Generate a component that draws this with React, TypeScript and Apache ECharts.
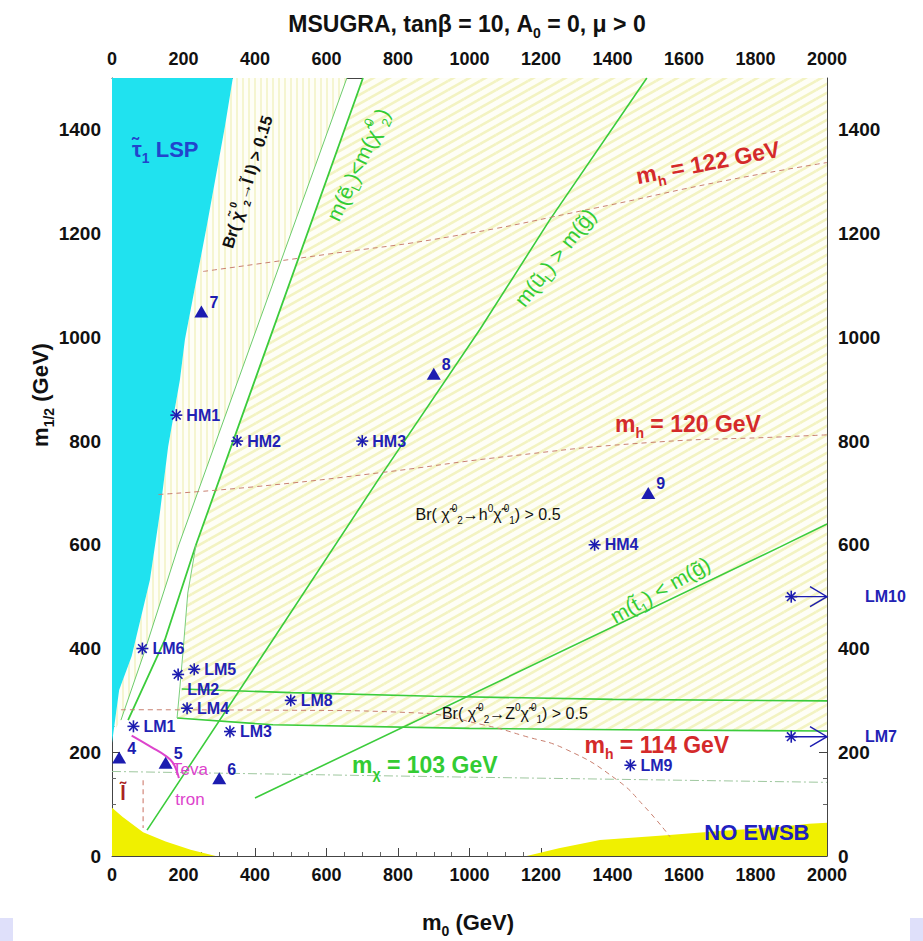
import { useEffect, useRef } from "react";
import * as echarts from "echarts";

const FONT = "'Liberation Sans', Arial, Helvetica, sans-serif";

const X_MIN = 0;
const X_MAX = 2000;
const Y_MIN = 0;
const Y_MAX = 1500;
const TICK_STEP = 200;

// ---- shaded regions (m0, m1/2) in GeV ----
const stauLspRegion = [[0, 218], [20, 320], [55, 385], [106, 532], [134, 662], [157, 789], [190, 918], [204, 996], [265, 1214], [316, 1407], [338, 1500], [0, 1500]];
const lepYellowRegion = [[0, 0], [0, 93], [30, 75], [87, 46], [150, 28], [220, 12], [290, 0]];
const noEwsbRegion = [[1160, 0], [1250, 15], [1365, 31], [1550, 40], [1700, 48], [1850, 55], [1950, 62], [2000, 64], [2000, 0]];
const higgsHatchRegion = [[702, 1500], [2000, 1500], [2000, 299], [1400, 302], [900, 308], [500, 315], [195, 322], [199, 397], [212, 507], [235, 600], [400, 918]];
const zHatchRegion = [[182, 266], [195, 322], [500, 315], [900, 308], [1400, 302], [2000, 299], [2000, 241], [1500, 243], [1000, 246], [450, 253]];
const sleptonHatchRegion = [[338, 1500], [657, 1500], [353, 918], [187, 600], [90, 392], [25, 262], [5, 240], [20, 320], [55, 385], [106, 532], [134, 662], [157, 789], [190, 918], [204, 996], [265, 1214], [316, 1407]];

// ---- contour lines ----
const brSleptonEdge = [[25, 262], [90, 392], [187, 600], [353, 918], [657, 1500]];
const selectronEdge = [[45, 262], [148, 417], [235, 600], [400, 918], [702, 1500]];
const hatchEdge = [[182, 266], [190, 326], [199, 397], [212, 507], [235, 600]];
const squarkGluinoEdge = [[98, 50], [450, 417], [750, 731], [1029, 1015], [1225, 1227], [1496, 1500]];
const stopGluinoEdge = [[400, 112], [1869, 596], [2000, 640]];
const zBandTop = [[195, 322], [500, 315], [900, 308], [1400, 302], [2000, 299]];
const zBandBottom = [[182, 266], [450, 253], [1000, 246], [1500, 243], [2000, 241]];
const mh114 = [[25, 282], [500, 281], [850, 276], [1038, 253], [1150, 232], [1272, 205], [1412, 147], [1490, 95], [1561, 37]];
const mh120 = [[130, 697], [400, 712], [750, 739], [1100, 770], [1500, 797], [1870, 808], [2000, 812]];
const mh122 = [[255, 1127], [600, 1160], [945, 1194], [1357, 1250], [1700, 1300], [2000, 1337]];
const mchi103 = [[0, 163], [1000, 152], [2000, 142]];
const sleptonLep = [[87, 146], [87, 54]];
const tevatronEdge = [[55, 232], [110, 210], [150, 193], [170, 180], [183, 160], [187, 150]];

// ---- benchmark points ----
const lmNames = ["LM1", "LM2", "LM3", "LM4", "LM5", "LM6", "LM8", "LM9", "HM1", "HM2", "HM3", "HM4"];
const lmX = [60, 185, 330, 210, 230, 85, 500, 1450, 180, 350, 700, 1350];
const lmY = [250, 350, 240, 285, 360, 400, 300, 175, 850, 800, 800, 600];
const offNames = ["LM7", "LM10"];
const offX = [1900, 1900];
const offY = [230, 500];
const triNames = ["4", "5", "6", "7", "8", "9"];
const triX = [20, 150, 300, 250, 900, 1500];
const triY = [190, 180, 150, 1050, 930, 700];

// ---- annotation texts ----
const annotTexts = [
  "{n|τ̃}{s|1}{n| LSP}",
  "{n|Br( }{c|χ̃}{u|0}{s|2}{n|→l̃ l) > 0.15}",
  "{n|m(ẽ}{s|L}{n|)<m(}{c|χ̃}{u|0}{s|2}{n|)}",
  "{n|m(ũ}{s|L}{n|) > m(g̃)}",
  "{n|m}{s|h}{n| = 122 GeV}",
  "{n|m}{s|h}{n| = 120 GeV}",
  "{n|Br( }{c|χ̃}{u|0}{s|2}{n|→h}{u|0}{c|χ̃}{u|0}{s|1}{n|) > 0.5}",
  "{n|m(t̃}{s|1}{n|) < m(g̃)}",
  "{n|Br( }{c|χ̃}{u|0}{s|2}{n|→Z}{u|0}{c|χ̃}{u|0}{s|1}{n|) > 0.5}",
  "{n|m}{s|h}{n| = 114 GeV}",
  "{n|m}{s|χ}{n| = 103 GeV}",
  "{n|NO EWSB}",
  "{n|Teva}",
  "{n|tron}",
  "{n|l̃}",
];
const annotAt = [[149, 1362], [378, 1300], [688, 1333], [1239, 1154], [1667, 1337], [1611, 832], [1052, 658], [1533, 513], [1127, 274], [1524, 214], [875, 176], [1804, 46], [218, 166], [218, 108], [31, 121]];

const BLUE = "#1c1cb0";
const GREEN = "#3ccc3c";
const GREEN_TXT = "#33cc33";
const RED_TXT = "#d42a2a";
const RED_DASH = "#c98070";
const MAGENTA = "#dd44cc";

const annotStyle = [
  { rot: 0, size: 22, color: "#2244cc", weight: "bold" },
  { rot: 73, size: 16.5, color: "#111", weight: "bold" },
  { rot: 65, size: 21, color: GREEN_TXT, weight: "normal" },
  { rot: 52, size: 21, color: GREEN_TXT, weight: "normal" },
  { rot: 11, size: 23, color: RED_TXT, weight: "bold" },
  { rot: 0, size: 23, color: RED_TXT, weight: "bold" },
  { rot: 0, size: 16, color: "#111", weight: "normal" },
  { rot: 30, size: 21, color: GREEN_TXT, weight: "normal" },
  { rot: 0, size: 16, color: "#111", weight: "normal" },
  { rot: 0, size: 23, color: RED_TXT, weight: "bold" },
  { rot: 0, size: 23, color: GREEN_TXT, weight: "bold" },
  { rot: 0, size: 22, color: "#2020c0", weight: "bold" },
  { rot: 0, size: 17, color: MAGENTA, weight: "normal" },
  { rot: 0, size: 17, color: MAGENTA, weight: "normal" },
  { rot: 0, size: 20, color: "#aa2222", weight: "bold" },
];

function richSet(size: number, color: string, weight: string) {
  const lh = Math.round(size * 1.4);
  const sm = Math.round(size * 0.62);
  return {
    n: { fontSize: size, fill: color, fontWeight: weight, fontFamily: FONT, lineHeight: lh, verticalAlign: "middle" },
    c: { fontSize: size, fill: color, fontWeight: weight, fontFamily: FONT, lineHeight: lh, verticalAlign: "middle", padding: [0, 2, 0, 0] },
    s: { fontSize: sm, fill: color, fontWeight: weight, fontFamily: FONT, verticalAlign: "bottom" },
    u: { fontSize: sm, fill: color, fontWeight: weight, fontFamily: FONT, verticalAlign: "top" },
  };
}

function makePattern(kind: "diag" | "vert") {
  const c = document.createElement("canvas");
  if (kind === "diag") {
    const w = 16, h = 9;
    c.width = w; c.height = h;
    const g = c.getContext("2d")!;
    g.fillStyle = "#fefef6";
    g.fillRect(0, 0, w, h);
    g.strokeStyle = "#f3f3c2";
    g.lineWidth = 2.6;
    for (const dx of [-w, 0, w]) {
      for (const dy of [-h, 0, h]) {
        g.beginPath();
        g.moveTo(dx, h + dy);
        g.lineTo(dx + w, dy);
        g.stroke();
      }
    }
    return { image: c, repeat: "repeat", imageWidth: w, imageHeight: h };
  }
  const w = 6, h = 6;
  c.width = w; c.height = h;
  const g = c.getContext("2d")!;
  g.fillStyle = "#fefef7";
  g.fillRect(0, 0, w, h);
  g.fillStyle = "#f5f5d0";
  g.fillRect(2, 0, 2, h);
  return { image: c, repeat: "repeat", imageWidth: w, imageHeight: h };
}

function star(cx: number, cy: number, r: number, color: string) {
  const d = r * 0.72;
  const segs = [
    [cx - r, cy, cx + r, cy],
    [cx, cy - r, cx, cy + r],
    [cx - d, cy - d, cx + d, cy + d],
    [cx - d, cy + d, cx + d, cy - d],
  ];
  return segs.map(([x1, y1, x2, y2]) => ({
    type: "line",
    shape: { x1, y1, x2, y2 },
    style: { stroke: color, lineWidth: 1.6 },
  }));
}

function lineSeries(data: number[][], color: string, width: number, type: any = "solid", smooth = false) {
  return {
    type: "line",
    data,
    xAxisIndex: 0,
    yAxisIndex: 0,
    showSymbol: false,
    symbol: "none",
    silent: true,
    smooth,
    lineStyle: { color, width, type },
    z: 3,
  };
}

export default function App() {
  const ref = useRef<HTMLDivElement>(null);
  useEffect(() => {
    const chart = echarts.init(ref.current!, undefined, { renderer: "svg" });
    const diag = makePattern("diag");
    const vert = makePattern("vert");
    const regions = [
      { pts: sleptonHatchRegion, fill: vert },
      { pts: higgsHatchRegion, fill: diag },
      { pts: zHatchRegion, fill: diag },
      { pts: stauLspRegion, fill: "#20e2ef" },
      { pts: lepYellowRegion, fill: "#f0f000" },
      { pts: noEwsbRegion, fill: "#f0f000" },
    ];

    const axisBase: any = {
      type: "value",
      min: X_MIN,
      max: X_MAX,
      interval: TICK_STEP,
      axisLine: { show: true, onZero: false, lineStyle: { color: "#444", width: 1 } },
      axisTick: { show: true, inside: true, length: 8, lineStyle: { color: "#444" } },
      minorTick: { show: true, splitNumber: 4, length: 4, lineStyle: { color: "#666" } },
      splitLine: { show: false },
      axisLabel: {
        fontFamily: FONT,
        fontWeight: "bold",
        fontSize: 18,
        color: "#111",
        margin: 10,
        formatter: (v: number) => String(v),
      },
    };
    const yBase: any = {
      ...axisBase,
      min: Y_MIN,
      max: Y_MAX,
      axisLabel: { ...axisBase.axisLabel, fontSize: 19, margin: 11, showMaxLabel: false },
    };

    const option: any = {
      animation: false,
      backgroundColor: "#ffffff",
      grid: { left: 112, right: 96, top: 78, bottom: 85, containLabel: false, outerBoundsMode: "none" },
      xAxis: [
        { ...axisBase, position: "bottom" },
        { ...axisBase, position: "top" },
      ],
      yAxis: [
        { ...yBase, position: "left" },
        { ...yBase, position: "right" },
      ],
      graphic: [
        {
          type: "text",
          x: 467,
          y: 24,
          style: {
            text: "{n|MSUGRA, tanβ = 10, A}{s|0}{n| = 0, μ > 0}",
            rich: richSet(23, "#111", "bold"),
            align: "center",
            verticalAlign: "middle",
          },
        },
        {
          type: "text",
          x: 468,
          y: 922,
          style: {
            text: "{n|m}{s|0}{n| (GeV)}",
            rich: richSet(22, "#111", "bold"),
            align: "center",
            verticalAlign: "middle",
          },
        },
        {
          type: "text",
          x: 40,
          y: 395,
          rotation: Math.PI / 2,
          style: {
            text: "{n|m}{s|1/2}{n| (GeV)}",
            rich: richSet(22, "#111", "bold"),
            align: "center",
            verticalAlign: "middle",
          },
        },
        { type: "rect", shape: { x: 0, y: 918, width: 13, height: 23 }, style: { fill: "#dfe0fa" } },
        { type: "rect", shape: { x: 910, y: 918, width: 13, height: 23 }, style: { fill: "#dfe0fa" } },
      ],
      series: [
        {
          type: "custom",
          xAxisIndex: 0,
          yAxisIndex: 0,
          silent: true,
          clip: true,
          z: 1,
          data: regions.map((_, i) => [0, 0, i]),
          renderItem: (params: any, api: any) => {
            const r = regions[params.dataIndex];
            return {
              type: "polygon",
              shape: { points: r.pts.map((p) => api.coord(p)) },
              style: { fill: r.fill, stroke: null },
            };
          },
        },
        lineSeries(zBandTop, GREEN, 1.6),
        lineSeries(zBandBottom, GREEN, 1.6),
        lineSeries(brSleptonEdge, "#6ccc6c", 1),
        lineSeries(selectronEdge, GREEN, 1.8),
        lineSeries(hatchEdge, "#7ccf7c", 1),
        lineSeries(squarkGluinoEdge, GREEN, 1.6),
        lineSeries(stopGluinoEdge, GREEN, 1.6),
        lineSeries(mh114, RED_DASH, 1, [5, 4], true),
        lineSeries(mh120, RED_DASH, 1, [5, 4], true),
        lineSeries(mh122, RED_DASH, 1, [5, 4], true),
        lineSeries(mchi103, "#9ec79e", 1, [9, 3, 2, 3]),
        lineSeries(sleptonLep, "#c97060", 1, [5, 4]),
        lineSeries(tevatronEdge, MAGENTA, 2, "solid", true),
        {
          type: "scatter",
          xAxisIndex: 0,
          yAxisIndex: 0,
          silent: true,
          z: 5,
          data: triX.map((x, i) => ({ value: [x, triY[i]], name: triNames[i] })),
          symbol: "triangle",
          symbolSize: [14, 12],
          itemStyle: { color: BLUE, opacity: 1 },
          label: {
            show: true,
            formatter: "{b}",
            position: "right",
            offset: [-4, -9],
            color: BLUE,
            fontWeight: "bold",
            fontSize: 16,
            fontFamily: FONT,
          },
        },
        {
          type: "custom",
          xAxisIndex: 0,
          yAxisIndex: 0,
          silent: true,
          clip: false,
          z: 6,
          data: lmX.map((x, i) => [x, lmY[i]]),
          renderItem: (params: any, api: any) => {
            const i = params.dataIndex;
            const [px, py] = api.coord([lmX[i], lmY[i]]);
            const isLM2 = lmNames[i] === "LM2";
            return {
              type: "group",
              children: [
                ...star(px, py, 6, BLUE),
                {
                  type: "text",
                  x: isLM2 ? px + 9 : px + 10,
                  y: isLM2 ? py + 15 : py,
                  style: {
                    text: lmNames[i],
                    fill: "#2222b4",
                    fontSize: 16,
                    fontWeight: "bold",
                    fontFamily: FONT,
                    align: "left",
                    verticalAlign: "middle",
                  },
                },
              ],
            };
          },
        },
        {
          type: "custom",
          xAxisIndex: 0,
          yAxisIndex: 0,
          silent: true,
          clip: false,
          z: 6,
          data: offX.map((x, i) => [x, offY[i]]),
          renderItem: (params: any, api: any) => {
            const i = params.dataIndex;
            const [sx, sy] = api.coord([offX[i], offY[i]]);
            const [ex] = api.coord([X_MAX, offY[i]]);
            return {
              type: "group",
              children: [
                ...star(sx, sy, 6, BLUE),
                { type: "line", shape: { x1: sx, y1: sy, x2: ex, y2: sy }, style: { stroke: BLUE, lineWidth: 1.4 } },
                {
                  type: "polyline",
                  shape: { points: [[ex - 17, sy - 10], [ex, sy], [ex - 17, sy + 10]] },
                  style: { stroke: BLUE, lineWidth: 1.4, fill: null },
                },
                {
                  type: "text",
                  x: ex + 38,
                  y: sy,
                  style: {
                    text: offNames[i],
                    fill: "#2222b4",
                    fontSize: 16,
                    fontWeight: "bold",
                    fontFamily: FONT,
                    align: "left",
                    verticalAlign: "middle",
                  },
                },
              ],
            };
          },
        },
        {
          type: "custom",
          xAxisIndex: 0,
          yAxisIndex: 0,
          silent: true,
          clip: false,
          z: 7,
          data: annotAt.map((p, i) => [p[0], p[1], i]),
          renderItem: (params: any, api: any) => {
            const i = params.dataIndex;
            const st = annotStyle[i];
            const [x, y] = api.coord(annotAt[i]);
            return {
              type: "text",
              x,
              y,
              rotation: (st.rot * Math.PI) / 180,
              style: {
                text: annotTexts[i],
                rich: richSet(st.size, st.color, st.weight),
                align: "center",
                verticalAlign: "middle",
              },
            };
          },
        },
      ],
    };
    chart.setOption(option);
    return () => chart.dispose();
  }, []);
  return (
    <div
      ref={ref}
      style={{ position: "absolute", left: 0, top: 0, width: 923, height: 941, background: "#fff" }}
    />
  );
}
